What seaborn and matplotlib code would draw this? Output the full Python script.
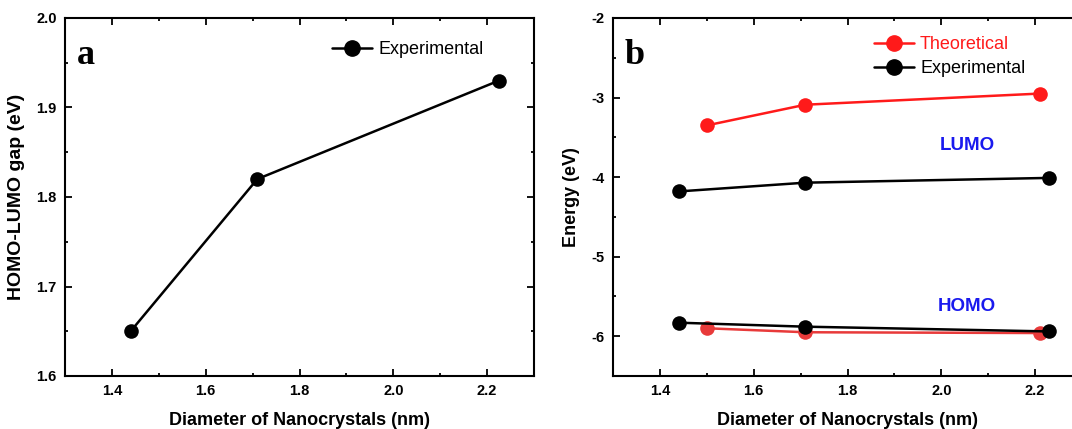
import matplotlib
matplotlib.use("Agg")
import matplotlib.pyplot as plt
from matplotlib.ticker import MultipleLocator, FuncFormatter
from matplotlib.lines import Line2D
import seaborn as sns
import pandas as pd

sns.set_theme(style="ticks")
plt.rcParams['font.family'] = ['Liberation Sans', 'DejaVu Sans']
plt.rcParams['text.color'] = 'black'
plt.rcParams['axes.labelcolor'] = 'black'
plt.rcParams['xtick.color'] = 'black'
plt.rcParams['ytick.color'] = 'black'

# ---- data ----
gap_diam = [1.44, 1.71, 2.225]
gap_ev = [1.65, 1.82, 1.93]

theo_diam = [1.50, 1.71, 2.21]
theo_lumo = [-3.35, -3.09, -2.95]
theo_homo = [-5.90, -5.95, -5.96]

exp_diam = [1.44, 1.71, 2.23]
exp_lumo = [-4.18, -4.07, -4.01]
exp_homo = [-5.83, -5.88, -5.94]

RED = "#ff1a1a"
RED_H = "#e83a3a"
BLACK = "#000000"
BLUE = "#1a1aee"

fig = plt.figure(figsize=(10.72, 4.29), dpi=100)
W, H = 1072, 429
ax1 = fig.add_axes([65 / W, 1 - 376 / H, 469 / W, 358 / H])
ax2 = fig.add_axes([613 / W, 1 - 376 / H, 469 / W, 358 / H])

MS = 10.5
line_kw = dict(marker="o", markersize=MS, linewidth=1.8, sort=False,
               markeredgewidth=0, legend=False)

# panel a
df_a = pd.DataFrame({"d": gap_diam, "g": gap_ev})
sns.lineplot(data=df_a, x="d", y="g", ax=ax1, color=BLACK, **line_kw)

# panel b
sns.lineplot(data=pd.DataFrame({"d": theo_diam, "e": theo_homo}), x="d", y="e",
             ax=ax2, color=RED_H, **line_kw)
sns.lineplot(data=pd.DataFrame({"d": theo_diam, "e": theo_lumo}), x="d", y="e",
             ax=ax2, color=RED, **line_kw)
sns.lineplot(data=pd.DataFrame({"d": exp_diam, "e": exp_lumo}), x="d", y="e",
             ax=ax2, color=BLACK, **line_kw)
sns.lineplot(data=pd.DataFrame({"d": exp_diam, "e": exp_homo}), x="d", y="e",
             ax=ax2, color=BLACK, **line_kw)

for ax in (ax1, ax2):
    ax.set_xlim(1.3, 2.3)
    ax.xaxis.set_major_locator(MultipleLocator(0.2))
    ax.xaxis.set_minor_locator(MultipleLocator(0.1))
    ax.xaxis.set_major_formatter(FuncFormatter(lambda v, p: f"{v:.1f}"))
    ax.tick_params(which="both", direction="in", top=True, right=True,
                   width=1.3, colors="black")
    ax.tick_params(which="major", length=5, labelsize=10.5, pad=6)
    ax.tick_params(which="minor", length=2.5)
    for s in ax.spines.values():
        s.set_linewidth(1.5)
        s.set_color("black")
    ax.set_xlabel("Diameter of Nanocrystals (nm)", fontsize=13,
                  fontweight="bold", labelpad=10)

ax1.set_ylim(1.6, 2.0)
ax1.yaxis.set_major_locator(MultipleLocator(0.1))
ax1.yaxis.set_minor_locator(MultipleLocator(0.05))
ax1.yaxis.set_major_formatter(FuncFormatter(lambda v, p: f"{v:.1f}"))
ax1.set_ylabel("HOMO-LUMO gap (eV)", fontsize=14, fontweight="bold", labelpad=8)

ax2.set_ylim(-6.5, -2)
ax2.yaxis.set_major_locator(MultipleLocator(1))
ax2.yaxis.set_minor_locator(MultipleLocator(0.5))
ax2.yaxis.set_major_formatter(FuncFormatter(lambda v, p: f"{v:.0f}".replace("\u2212", "-")))
ax2.set_ylabel("Energy (eV)", fontsize=13, fontweight="bold", labelpad=8)

for ax in (ax1, ax2):
    for lab in ax.get_xticklabels() + ax.get_yticklabels():
        lab.set_fontweight("bold")

# panel letters
ax1.text(0.025, 0.895, "a", transform=ax1.transAxes, fontsize=26, fontweight="bold",
         family="Liberation Serif", va="center", ha="left")
ax2.text(0.025, 0.895, "b", transform=ax2.transAxes, fontsize=26, fontweight="bold",
         family="Liberation Serif", va="center", ha="left")

# LUMO / HOMO labels
ax2.text(2.055, -3.6, "LUMO", color=BLUE, fontsize=13.5, fontweight="bold",
         ha="center", va="center")
ax2.text(2.055, -5.63, "HOMO", color=BLUE, fontsize=13.5, fontweight="bold",
         ha="center", va="center")

# legends
h_exp = Line2D([], [], color=BLACK, marker="o", markersize=MS + 0.5, linewidth=1.8)
h_theo = Line2D([], [], color=RED, marker="o", markersize=MS + 0.5, linewidth=1.8)
leg_kw = dict(frameon=False, fontsize=13, handlelength=2.2, handletextpad=0.35,
              borderpad=0, borderaxespad=0, labelspacing=0.4, loc="upper left",
              bbox_transform=fig.transFigure)
ax1.legend([h_exp], ["Experimental"], bbox_to_anchor=(332 / W, 1 - 41 / H), **leg_kw)
leg2 = ax2.legend([h_theo, h_exp], ["Theoretical", "Experimental"],
                  bbox_to_anchor=(874 / W, 1 - 36 / H), **leg_kw)
leg2.get_texts()[0].set_color(RED)

fig.savefig("out.png", dpi=100)
